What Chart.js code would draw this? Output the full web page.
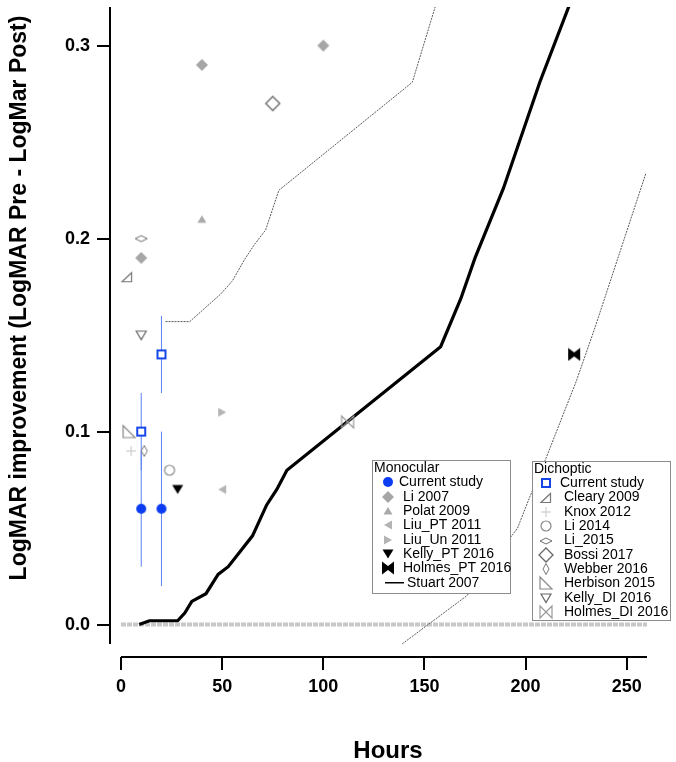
<!DOCTYPE html>
<html>
<head>
<meta charset="utf-8">
<title>LogMAR improvement vs hours</title>
<script src="https://cdn.jsdelivr.net/npm/chart.js@4.4.1/dist/chart.umd.min.js"></script>
<style>
  html, body { margin: 0; padding: 0; background: #fff; }
  canvas { display: block; }
</style>
</head>
<body>
<canvas id="chart" width="676" height="762"></canvas>
<script>
// ---- Data: hours of treatment vs LogMAR improvement ----

// Monocular studies
const monoCurrentHours = [10, 20];
const monoCurrentValues = [0.06, 0.06];
const monoCurrentErrors = [0.03, 0.04];
const li2007Hours = [10, 40, 100];
const li2007Values = [0.19, 0.29, 0.30];
const polat2009Hours = [40];
const polat2009Values = [0.21];
const liuPT2011Hours = [50];
const liuPT2011Values = [0.07];
const liuUn2011Hours = [50];
const liuUn2011Values = [0.11];
const kellyPT2016Hours = [28];
const kellyPT2016Values = [0.07];
const holmesPT2016Hours = [224];
const holmesPT2016Values = [0.14];

// Stuart 2007 dose-response curve and its bounds
const stuartHours = [9, 14, 28, 31.5, 35, 42, 48, 53, 59, 65, 72, 77, 82, 158, 168, 175, 189, 207, 222];
const stuartValues = [0, 0.002, 0.002, 0.006, 0.012, 0.016, 0.026, 0.030, 0.038, 0.046, 0.062, 0.070, 0.080, 0.144, 0.169, 0.190, 0.226, 0.281, 0.322];
const stuartUpperHours = [22, 34, 49, 55, 61, 66, 71.5, 78, 144, 157];
const stuartUpperValues = [0.157, 0.157, 0.171, 0.178, 0.189, 0.197, 0.2045, 0.225, 0.281, 0.326];
const stuartLowerHours = [139, 171, 196, 202, 210, 225, 234, 259.5];
const stuartLowerValues = [-0.01, 0.015, 0.050, 0.066, 0.086, 0.126, 0.153, 0.234];

// Dichoptic studies
const dichCurrentHours = [10, 20];
const dichCurrentValues = [0.10, 0.14];
const dichCurrentErrors = [0.02, 0.02];
const cleary2009Hours = [3];
const cleary2009Values = [0.18];
const knox2012Hours = [5];
const knox2012Values = [0.09];
const li2014Hours = [24];
const li2014Values = [0.08];
const li2015Hours = [10];
const li2015Values = [0.20];
const bossi2017Hours = [75];
const bossi2017Values = [0.27];
const webber2016Hours = [11.5];
const webber2016Values = [0.09];
const herbison2015Hours = [4];
const herbison2015Values = [0.10];
const kellyDI2016Hours = [10];
const kellyDI2016Values = [0.15];
const holmesDI2016Hours = [112];
const holmesDI2016Values = [0.105];

// Zero reference line
const zeroLineHours = [0, 260];
const zeroLineValues = [0, 0];

// Axes
const xTicks = [0, 50, 100, 150, 200, 250];
const yTicks = [0, 0.1, 0.2, 0.3];
const xAxisStart = 0, xAxisEnd = 260;
const yAxisStart = -0.01, yAxisEnd = 0.32;

const monocularLabels = ['Current study', 'Li 2007', 'Polat 2009', 'Liu_PT 2011', 'Liu_Un 2011', 'Kelly_PT 2016', 'Holmes_PT 2016', 'Stuart 2007'];
const dichopticLabels = ['Current study', 'Cleary 2009', 'Knox 2012', 'Li 2014', 'Li_2015', 'Bossi 2017', 'Webber 2016', 'Herbison 2015', 'Kelly_DI 2016', 'Holmes_DI 2016'];

const FONT = '"Liberation Sans", Arial, Helvetica, sans-serif';

/**
 * Build a small canvas used as a point style
 */
function marker(size, draw) {
    const c = document.createElement('canvas');
    c.width = size;
    c.height = size;
    const g = c.getContext('2d');
    g.translate(size / 2, size / 2);
    g.lineJoin = 'miter';
    draw(g);
    return c;
}

function poly(g, pts) {
    g.beginPath();
    g.moveTo(pts[0][0], pts[0][1]);
    for (let i = 1; i < pts.length; i++) g.lineTo(pts[i][0], pts[i][1]);
    g.closePath();
}

function filled(size, color, pts) {
    return marker(size, g => { poly(g, pts); g.fillStyle = color; g.fill(); });
}

function outlined(size, color, width, pts) {
    return marker(size, g => {
        poly(g, pts);
        g.fillStyle = '#fff';
        g.fill();
        g.strokeStyle = color;
        g.lineWidth = width;
        g.stroke();
    });
}

const markers = {
    monoCurrent: marker(12, g => { g.beginPath(); g.arc(0, 0, 5, 0, Math.PI * 2); g.fillStyle = '#0b3cf2'; g.fill(); }),
    li2007: filled(14, '#a6a6a6', [[0, -6], [6, 0], [0, 6], [-6, 0]]),
    polat2009: filled(12, '#aaaaaa', [[0, -4], [4.5, 3.5], [-4.5, 3.5]]),
    liuPT2011: filled(12, '#b4b4b4', [[-4, 0], [4, -4.5], [4, 4.5]]),
    liuUn2011: filled(12, '#b4b4b4', [[4, 0], [-4, -4.5], [-4, 4.5]]),
    kellyPT2016: filled(14, '#000', [[-5.5, -4.5], [5.5, -4.5], [0, 4.5]]),
    holmesPT2016: filled(14, '#000', [[-6, -6.5], [0, -2], [6, -6.5], [6, 6.5], [0, 2], [-6, 6.5]]),
    dichCurrent: marker(14, g => {
        g.fillStyle = '#fff';
        g.fillRect(-4, -4, 8, 8);
        g.strokeStyle = '#1446e8';
        g.lineWidth = 2;
        g.strokeRect(-4, -4, 8, 8);
    }),
    cleary2009: outlined(14, '#777', 1.2, [[4.5, -4.5], [4.5, 4.5], [-5, 4.5]]),
    knox2012: marker(12, g => {
        g.strokeStyle = '#c4c4c4';
        g.lineWidth = 1;
        g.beginPath();
        g.moveTo(-5, 0); g.lineTo(5, 0);
        g.moveTo(0, -5); g.lineTo(0, 5);
        g.stroke();
    }),
    li2014: marker(14, g => {
        g.beginPath(); g.arc(0, 0, 5, 0, Math.PI * 2);
        g.fillStyle = '#fff'; g.fill();
        g.strokeStyle = '#888'; g.lineWidth = 1.2; g.stroke();
    }),
    li2015: outlined(14, '#6e6e6e', 1, [[0, -3], [6, 0], [0, 3], [-6, 0]]),
    bossi2017: outlined(18, '#666', 1.3, [[0, -7], [7, 0], [0, 7], [-7, 0]]),
    webber2016: outlined(14, '#777', 1, [[0, -5.5], [3, 0], [0, 5.5], [-3, 0]]),
    herbison2015: outlined(16, '#888', 1.2, [[-6, -6], [-6, 6], [6, 6]]),
    kellyDI2016: outlined(14, '#666', 1.2, [[-5, -4], [5, -4], [0, 4.5]]),
    holmesDI2016: marker(16, g => {
        poly(g, [[-6, -6], [6, 6], [6, -6], [-6, 6]]);
        g.strokeStyle = '#9a9a9a';
        g.lineWidth = 1.2;
        g.stroke();
    })
};

function points(label, hours, values, style) {
    return {
        label: label,
        data: hours.map((h, i) => ({ x: h, y: values[i] })),
        showLine: false,
        pointStyle: style,
        pointRadius: 6,
        pointHoverRadius: 6
    };
}

function line(label, hours, values, color, width, dash) {
    return {
        label: label,
        data: hours.map((h, i) => ({ x: h, y: values[i] })),
        showLine: true,
        borderColor: color,
        borderWidth: width,
        borderDash: dash || [],
        pointRadius: 0,
        fill: false,
        tension: 0
    };
}

function errorBars(label, hours, values, errors, color) {
    const data = [];
    hours.forEach((h, i) => {
        data.push({ x: h, y: values[i] - errors[i] });
        data.push({ x: h, y: values[i] + errors[i] });
        data.push({ x: h, y: null });
    });
    return {
        label: label,
        data: data,
        showLine: true,
        spanGaps: false,
        borderColor: color,
        borderWidth: 1,
        pointRadius: 0
    };
}

/**
 * Axis lines, axis titles and the two legend boxes
 */
const framePlugin = {
    id: 'frame',
    afterDatasetsDraw(chart) {
        const ctx = chart.ctx;
        drawLegend(ctx, {
            x: 372, y: 460, w: 138, h: 133, title: 'Monocular', titleY: 467.7,
            markerX: 388, firstRow: 482.3, step: 14.35
        }, [
            { label: monocularLabels[0], marker: markers.monoCurrent, textX: 399 },
            { label: monocularLabels[1], marker: markers.li2007, textX: 403 },
            { label: monocularLabels[2], marker: markers.polat2009, textX: 403 },
            { label: monocularLabels[3], marker: markers.liuPT2011, textX: 403 },
            { label: monocularLabels[4], marker: markers.liuUn2011, textX: 403 },
            { label: monocularLabels[5], marker: markers.kellyPT2016, textX: 403 },
            { label: monocularLabels[6], marker: markers.holmesPT2016, textX: 403 },
            { label: monocularLabels[7], marker: 'line', textX: 407 }
        ]);
        drawLegend(ctx, {
            x: 532, y: 461, w: 138, h: 159, title: 'Dichoptic', titleY: 469,
            markerX: 546, firstRow: 483.3, step: 14.3
        }, [
            { label: dichopticLabels[0], marker: markers.dichCurrent, textX: 560 },
            { label: dichopticLabels[1], marker: markers.cleary2009, textX: 564 },
            { label: dichopticLabels[2], marker: markers.knox2012, textX: 564 },
            { label: dichopticLabels[3], marker: markers.li2014, textX: 564 },
            { label: dichopticLabels[4], marker: markers.li2015, textX: 564 },
            { label: dichopticLabels[5], marker: markers.bossi2017, textX: 564 },
            { label: dichopticLabels[6], marker: markers.webber2016, textX: 564 },
            { label: dichopticLabels[7], marker: markers.herbison2015, textX: 564 },
            { label: dichopticLabels[8], marker: markers.kellyDI2016, textX: 564 },
            { label: dichopticLabels[9], marker: markers.holmesDI2016, textX: 564 }
        ]);
    },
    afterDraw(chart) {
        const ctx = chart.ctx;
        const xs = chart.scales.x;
        const ys = chart.scales.y;
        const area = chart.chartArea;
        ctx.save();
        ctx.strokeStyle = '#000';
        ctx.lineWidth = 2;
        ctx.beginPath();
        ctx.moveTo(area.left, ys.getPixelForValue(yAxisEnd));
        ctx.lineTo(area.left, ys.getPixelForValue(yAxisStart));
        ctx.moveTo(xs.getPixelForValue(xAxisStart), area.bottom);
        ctx.lineTo(xs.getPixelForValue(xAxisEnd), area.bottom);
        ctx.stroke();

        ctx.fillStyle = '#000';
        ctx.font = 'bold 24px ' + FONT;
        ctx.textAlign = 'center';
        ctx.textBaseline = 'alphabetic';
        ctx.fillText('Hours', 388, 758);

        ctx.translate(26, 298);
        ctx.rotate(-Math.PI / 2);
        ctx.font = 'bold 23px ' + FONT;
        ctx.fillText('LogMAR improvement (LogMAR Pre - LogMar Post)', 0, 0);
        ctx.restore();
    }
};

function drawLegend(ctx, box, entries) {
    ctx.save();
    ctx.fillStyle = '#fff';
    ctx.fillRect(box.x, box.y, box.w, box.h);
    ctx.strokeStyle = '#8c8c8c';
    ctx.lineWidth = 1;
    ctx.strokeRect(box.x + 0.5, box.y + 0.5, box.w, box.h);
    ctx.font = '14px ' + FONT;
    ctx.fillStyle = '#000';
    ctx.textBaseline = 'middle';
    ctx.textAlign = 'left';
    ctx.fillText(box.title, box.x + 2, box.titleY);
    entries.forEach((e, i) => {
        const y = box.firstRow + i * box.step;
        if (e.marker === 'line') {
            ctx.strokeStyle = '#000';
            ctx.lineWidth = 1.5;
            ctx.beginPath();
            ctx.moveTo(box.x + 13, y);
            ctx.lineTo(box.x + 32, y);
            ctx.stroke();
        } else {
            ctx.drawImage(e.marker, Math.round(box.markerX - e.marker.width / 2), Math.round(y - e.marker.height / 2));
        }
        ctx.fillText(e.label, e.textX, y);
    });
    ctx.restore();
}

// Chart.js reserves room for edge tick labels; the plot area is fixed here instead
function noScalePadding(scale) {
    scale.paddingTop = 0;
    scale.paddingBottom = 0;
    scale.paddingLeft = 0;
    scale.paddingRight = 0;
}

Chart.defaults.font.family = FONT;
Chart.defaults.color = '#000';

new Chart(document.getElementById('chart'), {
    type: 'scatter',
    data: {
        datasets: [
            points(monocularLabels[6], holmesPT2016Hours, holmesPT2016Values, markers.holmesPT2016),
            points(monocularLabels[5], kellyPT2016Hours, kellyPT2016Values, markers.kellyPT2016),
            points(monocularLabels[4], liuUn2011Hours, liuUn2011Values, markers.liuUn2011),
            points(monocularLabels[3], liuPT2011Hours, liuPT2011Values, markers.liuPT2011),
            points(monocularLabels[2], polat2009Hours, polat2009Values, markers.polat2009),
            points(monocularLabels[1], li2007Hours, li2007Values, markers.li2007),
            points(dichopticLabels[9], holmesDI2016Hours, holmesDI2016Values, markers.holmesDI2016),
            points(dichopticLabels[8], kellyDI2016Hours, kellyDI2016Values, markers.kellyDI2016),
            points(dichopticLabels[7], herbison2015Hours, herbison2015Values, markers.herbison2015),
            points(dichopticLabels[6], webber2016Hours, webber2016Values, markers.webber2016),
            points(dichopticLabels[5], bossi2017Hours, bossi2017Values, markers.bossi2017),
            points(dichopticLabels[4], li2015Hours, li2015Values, markers.li2015),
            points(dichopticLabels[3], li2014Hours, li2014Values, markers.li2014),
            points(dichopticLabels[2], knox2012Hours, knox2012Values, markers.knox2012),
            points(dichopticLabels[1], cleary2009Hours, cleary2009Values, markers.cleary2009),
            points('Dichoptic current study', dichCurrentHours, dichCurrentValues, markers.dichCurrent),
            points('Monocular current study', monoCurrentHours, monoCurrentValues, markers.monoCurrent),
            errorBars('Dichoptic error', dichCurrentHours, dichCurrentValues, dichCurrentErrors, '#5a82f0'),
            errorBars('Monocular error', monoCurrentHours, monoCurrentValues, monoCurrentErrors, '#5a82f0'),
            line(monocularLabels[7], stuartHours, stuartValues, '#000', 3.2),
            line('Stuart upper', stuartUpperHours, stuartUpperValues, '#5a5a5a', 1, [2, 1]),
            line('Stuart lower', stuartLowerHours, stuartLowerValues, '#5a5a5a', 1, [2, 1]),
            line('Zero', zeroLineHours, zeroLineValues, '#c8c8c8', 4, [5, 1])
        ]
    },
    options: {
        responsive: false,
        animation: false,
        devicePixelRatio: 1,
        layout: { padding: { top: 5, right: 29, bottom: 0, left: 0 } },
        plugins: {
            legend: { display: false },
            tooltip: { enabled: false }
        },
        scales: {
            x: {
                type: 'linear',
                min: -5.437,
                max: 260,
                afterFit: scale => { scale.height = 105; noScalePadding(scale); },
                afterBuildTicks: scale => { scale.ticks = xTicks.map(v => ({ value: v })); },
                border: { display: false },
                grid: { drawOnChartArea: false, drawTicks: true, tickLength: 13, color: '#000', lineWidth: 2 },
                ticks: {
                    autoSkip: false,
                    maxRotation: 0,
                    padding: 6,
                    font: { size: 18, weight: 'bold' },
                    callback: v => String(v)
                }
            },
            y: {
                type: 'linear',
                min: -0.01679,
                max: 0.32,
                afterFit: scale => { scale.width = 110; noScalePadding(scale); },
                afterBuildTicks: scale => { scale.ticks = yTicks.map(v => ({ value: v })); },
                border: { display: false },
                grid: { drawOnChartArea: false, drawTicks: true, tickLength: 13, color: '#000', lineWidth: 2 },
                ticks: {
                    autoSkip: false,
                    padding: 7,
                    font: { size: 18, weight: 'bold' },
                    callback: v => v.toFixed(1)
                }
            }
        }
    },
    plugins: [framePlugin]
});
</script>
</body>
</html>
